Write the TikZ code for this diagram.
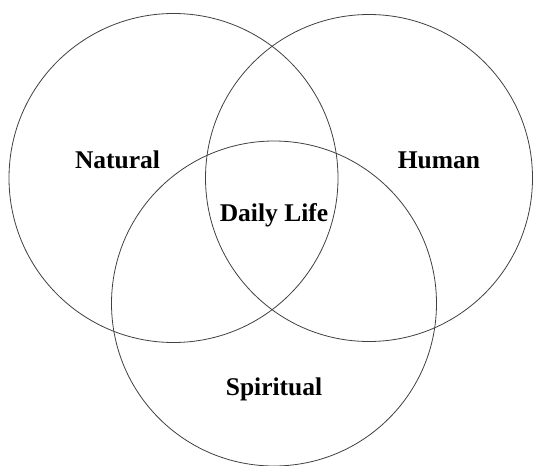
\documentclass[tikz,border=0pt]{standalone}
\usepackage{fontspec}
\setmainfont{Liberation Serif}
\begin{document}
\begin{tikzpicture}[x=1pt,y=-1pt,
  ring/.style={draw=black!75,line width=0.8pt},
  lbl/.style={font=\fontsize{25.5}{28}\selectfont\bfseries,inner sep=0pt}]
\useasboundingbox (0,0) rectangle (533,466);
\draw[ring] (173.5,178) circle (164.5);
\draw[ring] (369,178) circle (163.5);
\draw[ring] (274,303.5) circle (162.5);
\node[lbl] (natural) at (117.5,160) {Natural};
\node[lbl] (human) at (439,160) {Human};
\node[lbl] (daily) at (274,215) {Daily Life};
\node[lbl] (spiritual) at (274,389) {Spiritual};
\end{tikzpicture}
\end{document}
